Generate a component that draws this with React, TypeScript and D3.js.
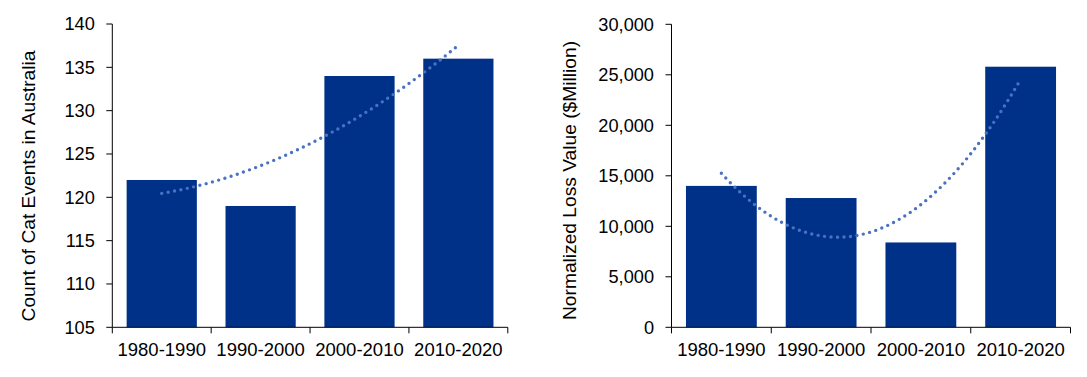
import React from "react";
import * as d3 from "d3";

const categories = ["1980-1990", "1990-2000", "2000-2010", "2010-2020"];
const eventCounts = [122, 119, 134, 136];
const lossValues = [14000, 12800, 8400, 25800];
const countTicks = [105, 110, 115, 120, 125, 130, 135, 140];
const lossTicks = [0, 5000, 10000, 15000, 20000, 25000, 30000];

const BAR = "#003189";
const TREND = "#4A72C4";
const FONT = "'Liberation Sans', Arial, sans-serif";

// Least-squares polynomial (order 2) trendline, as a spreadsheet would compute it
function quadFit(ys: number[]) {
  const xs = ys.map((_, i) => i + 1);
  const S = (f: (x: number, y: number) => number) => xs.reduce((a, x, i) => a + f(x, ys[i]), 0);
  const n = xs.length;
  const sx = S((x) => x), sx2 = S((x) => x * x), sx3 = S((x) => x ** 3), sx4 = S((x) => x ** 4);
  const sy = S((_, y) => y), sxy = S((x, y) => x * y), sx2y = S((x, y) => x * x * y);
  const A = [
    [n, sx, sx2, sy],
    [sx, sx2, sx3, sxy],
    [sx2, sx3, sx4, sx2y],
  ];
  for (let i = 0; i < 3; i++) {
    for (let j = i + 1; j < 3; j++) {
      const f = A[j][i] / A[i][i];
      for (let k = i; k < 4; k++) A[j][k] -= f * A[i][k];
    }
  }
  const c = [0, 0, 0];
  for (let i = 2; i >= 0; i--) {
    let s = A[i][3];
    for (let k = i + 1; k < 3; k++) s -= A[i][k] * c[k];
    c[i] = s / A[i][i];
  }
  return (x: number) => c[0] + c[1] * x + c[2] * x * x;
}

type PanelProps = {
  values: number[];
  ticks: number[];
  left: number;
  right: number;
  top: number;
  bottom: number;
  titleX: number;
  titleY: number;
  title: string;
  fmt: (v: number) => string;
};

function Panel({ values, ticks, left, right, top, bottom, titleX, titleY, title, fmt }: PanelProps) {
  const x = d3.scaleBand<string>().domain(categories).range([left, right]).paddingInner(0.29).paddingOuter(0.145);
  const band = d3.scaleBand<string>().domain(categories).range([left, right]);
  const y = d3.scaleLinear().domain([ticks[0], ticks[ticks.length - 1]]).range([bottom, top]);
  const fit = quadFit(values);
  const xc = d3.scaleLinear().domain([1, categories.length]).range([
    band(categories[0])! + band.bandwidth() / 2,
    band(categories[categories.length - 1])! + band.bandwidth() / 2,
  ]);
  const pts = d3.range(0, 101).map((i) => {
    const t = 1 + (3 * i) / 100;
    return [xc(t), y(fit(t))] as [number, number];
  });
  const line = d3.line().curve(d3.curveLinear)(pts) || "";
  const boundaries = categories.map((c) => band(c)!).concat([right]);
  return (
    <g>
      {values.map((v, i) => (
        <rect
          key={categories[i]}
          x={x(categories[i])}
          width={x.bandwidth()}
          y={y(v)}
          height={bottom - y(v)}
          fill={BAR}
        />
      ))}
      <path d={line} fill="none" stroke={TREND} strokeWidth={3.4} strokeLinecap="round" strokeDasharray="0 6.5" />
      <line x1={left} x2={left} y1={top} y2={bottom} stroke="#000" strokeWidth={1} />
      <line x1={left} x2={right} y1={bottom} y2={bottom} stroke="#000" strokeWidth={1} />
      {ticks.map((t) => (
        <g key={t}>
          <line x1={left - 6} x2={left} y1={y(t)} y2={y(t)} stroke="#000" />
          <text x={left - 17.5} y={y(t)} dy="0.35em" textAnchor="end" fontSize={18.2} fill="#000" fontFamily={FONT}>
            {fmt(t)}
          </text>
        </g>
      ))}
      {boundaries.map((b, i) => (
        <line key={i} x1={b} x2={b} y1={bottom} y2={bottom + 6} stroke="#000" />
      ))}
      {categories.map((c) => (
        <text
          key={c}
          x={band(c)! + band.bandwidth() / 2}
          y={356.3}
          textAnchor="middle"
          fontSize={18.5}
          fill="#000"
          fontFamily={FONT}
        >
          {c}
        </text>
      ))}
      <text
        transform={`translate(${titleX},${titleY}) rotate(-90)`}
        textAnchor="middle"
        fontSize={19.2}
        fill="#000"
        fontFamily={FONT}
      >
        {title}
      </text>
    </g>
  );
}

export default function App() {
  return (
    <svg
      width={1087}
      height={377}
      style={{ position: "absolute", left: 0, top: 0, background: "#fff" }}
    >
      <rect width={1087} height={377} fill="#fff" />
      <Panel
        values={eventCounts}
        ticks={countTicks}
        left={112.3}
        right={507.8}
        top={24}
        bottom={327.3}
        titleX={34.5}
        titleY={186}
        title="Count of Cat Events in Australia"
        fmt={(v) => String(v)}
      />
      <Panel
        values={lossValues}
        ticks={lossTicks}
        left={671.5}
        right={1070.5}
        top={24.3}
        bottom={327.3}
        titleX={576}
        titleY={180.5}
        title="Normalized Loss Value ($Million)"
        fmt={d3.format(",")}
      />
    </svg>
  );
}
